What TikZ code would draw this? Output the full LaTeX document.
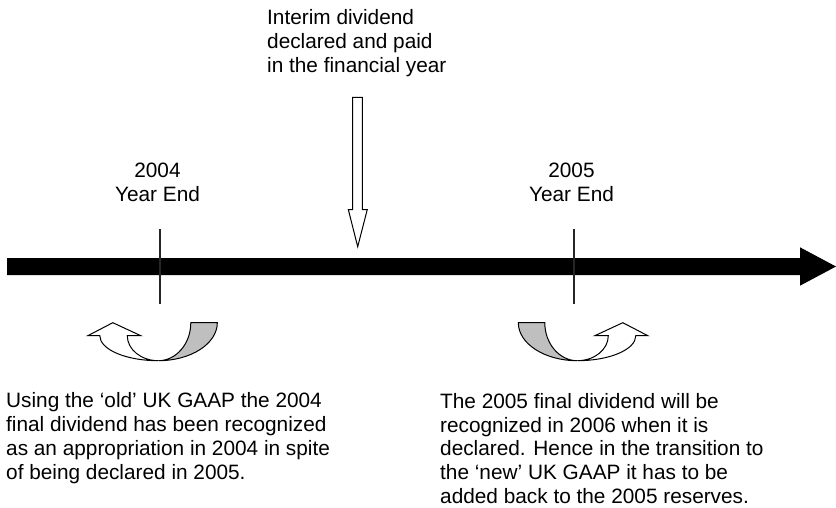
\documentclass[tikz,border=0pt]{standalone}
\usepackage{fontspec}
\setmainfont{Liberation Sans}
\begin{document}
\begin{tikzpicture}[x=1pt,y=-1pt,
  txt/.style={inner sep=0pt, font=\fontsize{20.8}{23.8}\selectfont},
  outline/.style={draw=black, line width=1pt, line join=miter},
  bandfill/.style={outline, fill=black!25},
  tick/.style={draw=black!85, line width=1.2pt}]
\useasboundingbox (0,0) rectangle (836,507);

% time line
\fill[black] (7,258) -- (800,258) -- (800,247.3) -- (836,266.5) -- (800,285.7)
  -- (800,275.2) -- (7,275.2) -- cycle;

% year-end markers
\coordinate (t4top) at (160,229);
\coordinate (t4bot) at (160,304);
\coordinate (t5top) at (574,229);
\coordinate (t5bot) at (574,304);
\draw[tick] (t4top) -- (t4bot);
\draw[tick] (t5top) -- (t5bot);

% multi-line nodes are anchored on the baseline of their last line
\node[txt, align=center, anchor=base] (ye2004) at (157.5,201.7) {2004\\Year End};
\node[txt, align=center, anchor=base] (ye2005) at (571.5,201.7) {2005\\Year End};

% interim dividend
\node[txt, align=left, anchor=base west] (interim) at (267,72)
  {Interim dividend\\declared and paid\\in the financial year};
\path[outline, fill=white] (352.7,97.3) -- (362.3,97.3) -- (362.3,209.5) -- (367.3,209.5)
  -- (357.7,246.7) -- (348.3,209.5) -- (352.7,209.5) -- cycle;

% final dividend turns: shaded band into the turn, open arrow out of it
\foreach \cx/\dir in {158.3/-1, 577.3/1} {
  \begin{scope}[shift={(\cx,360.7)}, xscale=\dir]
    \path[bandfill] (-59,-38) .. controls (-59,-17) and (-32.6,0) .. (0,0)
      .. controls (-17.9,0) and (-32.5,-17) .. (-32.5,-38) -- cycle;
    \path[outline, fill=white] (0,0) .. controls (32.3,0) and (58.5,-11.2) .. (58.5,-25)
      -- (70.5,-25) -- (45.5,-38) -- (17.5,-25) -- (31,-25)
      .. controls (31,-11.2) and (17.1,0) .. (0,0) -- cycle;
  \end{scope}
}

\node[txt, align=left, anchor=base west] (oldgaap) at (6,479.1)
  {Using the ‘old’ UK GAAP the 2004\\final dividend has been recognized\\as an appropriation in 2004 in spite\\of being declared in 2005.};
\node[txt, align=left, anchor=base west] (newgaap) at (440,503.5)
  {The 2005 final dividend will be\\recognized in 2006 when it is\\declared. Hence in the transition to\\the ‘new’ UK GAAP it has to be\\added back to the 2005 reserves.};
\end{tikzpicture}
\end{document}
